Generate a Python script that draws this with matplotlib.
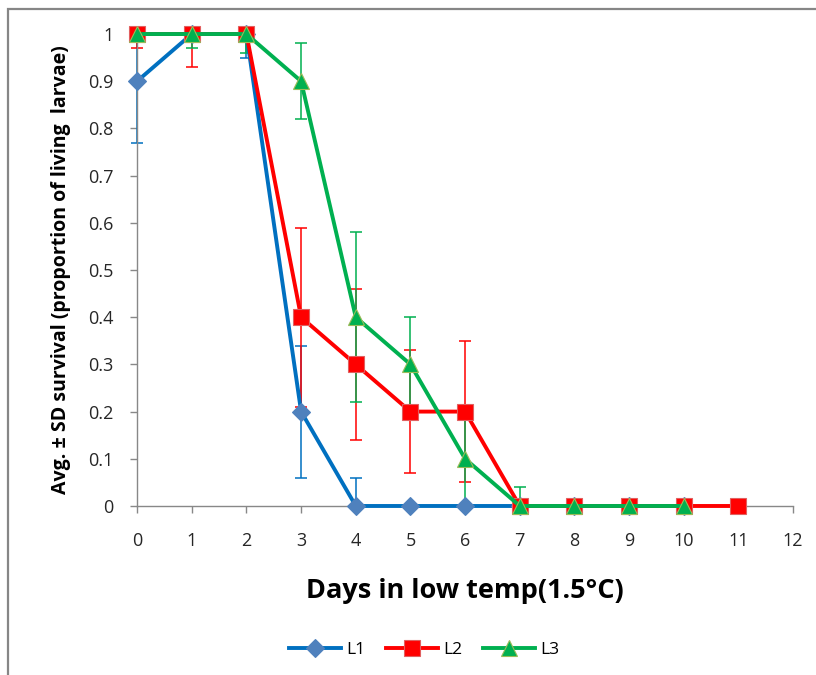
import numpy as np
import matplotlib
matplotlib.use('Agg')
import matplotlib.pyplot as plt
from matplotlib.patches import Rectangle

# Survival data (proportion of living larvae) per day
days_l1 = [0, 1, 2, 3, 4, 5, 6, 7, 8, 9, 10]
l1 = [0.9, 1, 1, 0.2, 0, 0, 0, 0, 0, 0, 0]
l1_sd = [0.13, 0, 0.05, 0.14, 0.06, 0, 0, 0, 0, 0, 0]

days_l2 = [0, 1, 2, 3, 4, 5, 6, 7, 8, 9, 10, 11]
l2 = [1, 1, 1, 0.4, 0.3, 0.2, 0.2, 0, 0, 0, 0, 0]
l2_sd = [0.03, 0.07, 0, 0.19, 0.16, 0.13, 0.15, 0, 0, 0, 0, 0]

days_l3 = [0, 1, 2, 3, 4, 5, 6, 7, 8, 9, 10]
l3 = [1, 1, 1, 0.9, 0.4, 0.3, 0.1, 0, 0, 0, 0]
l3_sd = [0, 0.03, 0.04, 0.08, 0.18, 0.1, 0.1, 0.04, 0, 0, 0]

series = [
    ('L1', days_l1, l1, l1_sd, '#0070C0', '#4F81BD', '#4F81BD', 'D', 9),
    ('L2', days_l2, l2, l2_sd, '#FF0000', '#FF0000', '#E06060', 's', 11),
    ('L3', days_l3, l3, l3_sd, '#00B050', '#00B050', '#9BBB59', '^', 11),
]

plt.rcParams['font.family'] = ['Open Sans', 'DejaVu Sans']

fig = plt.figure(figsize=(8.16, 6.75), dpi=100)
ax = fig.add_axes([0.168, 0.2504, 0.804, 0.6992])

# chart area border (Excel style)
fig.patches.append(Rectangle((8 / 816, -0.05), 1.1, 1 - 9 / 675 + 0.05,
                             transform=fig.transFigure, fill=False,
                             edgecolor='#868686', linewidth=1.6))

# error bars are cut at top and bottom of the plot but not at the sides
clip_rect = Rectangle((-0.05, 0.0), 1.1, 1.0, transform=ax.transAxes,
                      fill=False, visible=False)
ax.add_patch(clip_rect)

for name, x, y, sd, lc, mc, ec, mk, ms in series:
    eb = ax.errorbar(x, y, yerr=sd, fmt='none', ecolor=lc, elinewidth=1.1,
                     capsize=4, capthick=1.1, zorder=2)
    for art in eb.lines[1] + eb.lines[2]:
        art.set_clip_path(clip_rect)
for name, x, y, sd, lc, mc, ec, mk, ms in series:
    ax.plot(x, y, color=lc, linewidth=2.8, marker=mk, markersize=ms,
            markerfacecolor=mc, markeredgecolor=ec, markeredgewidth=0.8,
            label=name, clip_on=False, zorder=3)

ax.set_xlim(0, 12)
ax.set_ylim(0, 1)
ax.set_xticks(np.arange(0, 13, 1))
ax.set_yticks(np.arange(0, 1.01, 0.1))
ax.set_yticklabels(['0', '0.1', '0.2', '0.3', '0.4', '0.5', '0.6', '0.7', '0.8', '0.9', '1'])

for s in ['top', 'right']:
    ax.spines[s].set_visible(False)
for s in ['left', 'bottom']:
    ax.spines[s].set_color('#888888')
    ax.spines[s].set_linewidth(1.0)
ax.tick_params(axis='both', direction='out', length=5, width=1.0,
               color='#888888', labelsize=13, labelcolor='#262626')
ax.tick_params(axis='x', pad=14)
ax.tick_params(axis='y', pad=12)

ax.set_xlabel('Days in low temp(1.5°C)', fontsize=19.5, fontweight='bold',
              labelpad=20)
ax.set_ylabel('Avg. ± SD survival (proportion of living  larvae)', fontsize=14,
              fontweight='bold', labelpad=12)

fig.legend(loc='center', bbox_to_anchor=(0.52, 0.037), ncol=3,
           frameon=False, fontsize=12.5, handlelength=3, columnspacing=1.2,
           handletextpad=0.3)

fig.savefig('out.png', dpi=100)
